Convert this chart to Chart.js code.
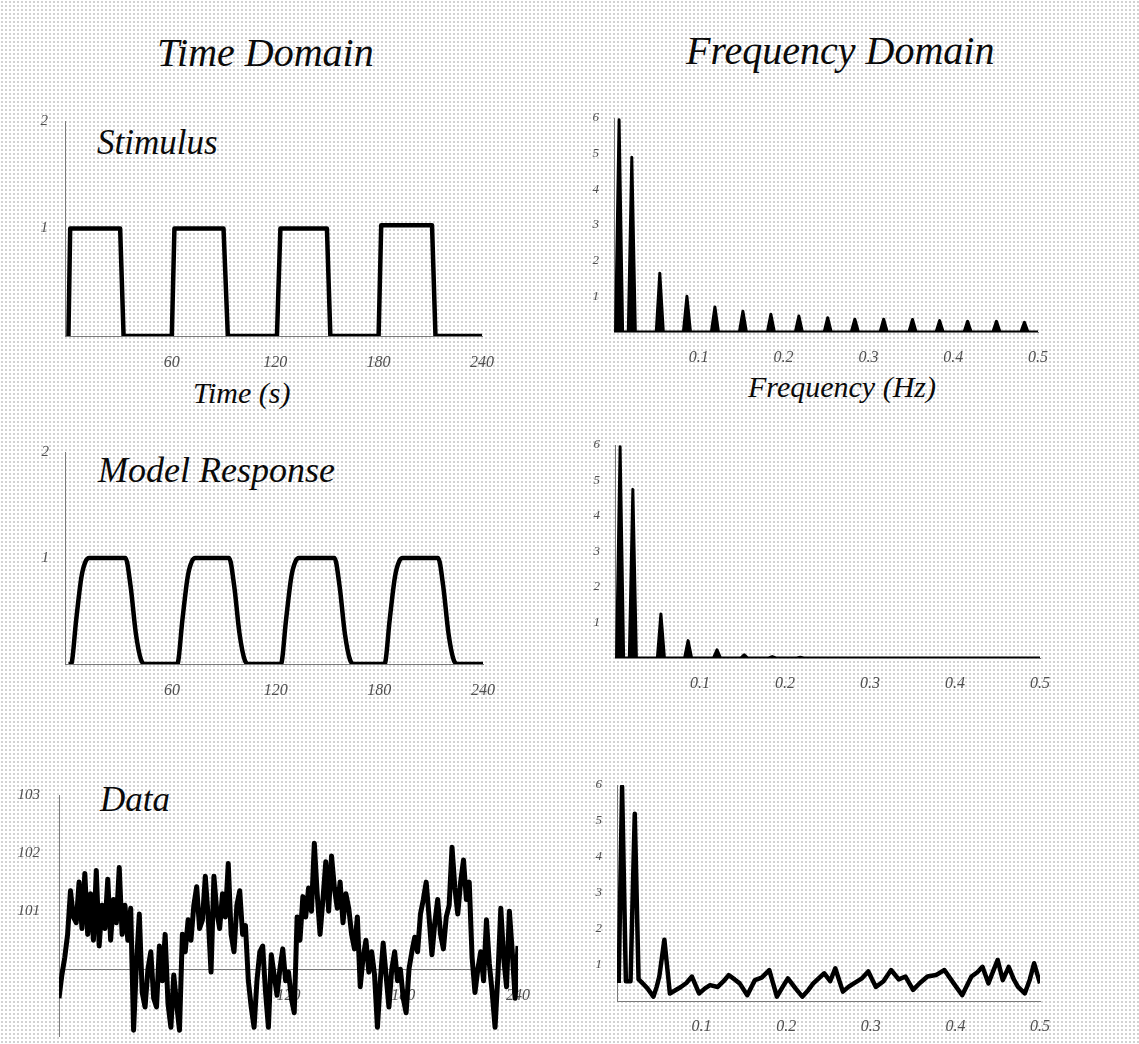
<!DOCTYPE html>
<html lang="en">
<head>
<meta charset="UTF-8">
<title>Time Domain / Frequency Domain</title>
<script src="https://cdn.jsdelivr.net/npm/chart.js"></script>
<style>
  html, body { margin: 0; padding: 0; }
  body {
    width: 1139px; height: 1044px; overflow: hidden; position: relative;
    background-color: #fff;
    background-image: radial-gradient(#d2d2d2 30%, transparent 32%);
    background-size: 4px 4px;
    font-family: "Liberation Serif", "DejaVu Serif", serif;
  }
  canvas { position: absolute; }
  .lbl { position: absolute; font-style: italic; line-height: 1; color: #0a0a0a; white-space: nowrap; }
</style>
</head>
<body>
<div class="lbl" style="left:157px; top:33px; font-size:40px;">Time Domain</div>
<div class="lbl" style="left:686px; top:31px; font-size:40px;">Frequency Domain</div>
<div class="lbl" style="left:97px; top:125px; font-size:35px;">Stimulus</div>
<div class="lbl" style="left:193px; top:378px; font-size:30px;">Time (s)</div>
<div class="lbl" style="left:748px; top:372px; font-size:30px;">Frequency (Hz)</div>
<div class="lbl" style="left:98px; top:452px; font-size:36px;">Model Response</div>
<div class="lbl" style="left:100px; top:782px; font-size:35px;">Data</div>

<script>
// ---- time domain ----
const tdXTicks = [60, 120, 180, 240];
const tdYTicks = [1, 2];
const dataYTicks = [101, 102, 103];

const stimT = [0, 1, 30, 32, 60, 61.5, 90, 92.5, 121, 123, 150, 152, 180, 181.5, 211, 213, 240];
const stimV = [0, 1, 1, 0, 0, 1, 1, 0, 0, 1, 1, 0, 0, 1.03, 1.03, 0, 0];

const modelT = [0,
  1.5, 4.5, 7.5, 10, 12, 33, 36, 39, 42, 44.5,
  63, 66, 69, 71.5, 73.5, 93, 96, 99, 102, 104.5,
  123, 126, 129, 131.5, 133.5, 154, 157, 160, 163, 165.5,
  183, 186, 189, 191.5, 193.5, 214, 217, 220, 223, 225.5,
  240];
const modelV = [0,
  0, 0.42, 0.82, 0.97, 1, 1, 0.73, 0.29, 0.04, 0,
  0, 0.42, 0.82, 0.97, 1, 1, 0.73, 0.29, 0.04, 0,
  0, 0.42, 0.82, 0.97, 1, 1, 0.73, 0.29, 0.04, 0,
  0, 0.42, 0.82, 0.97, 1, 1, 0.73, 0.29, 0.04, 0,
  0];

// measured signal, one sample every 1.5 s from t = 0
const dataStep = 1.5;
const dataV = [99.5, 99.9, 100.2, 100.6, 101.35, 100.9, 100.8, 101.5, 100.7, 101.65,
  100.6, 101.3, 100.5, 101.7, 100.4, 101.1, 100.7, 101.55, 100.5, 101.2,
  100.8, 101.75, 100.6, 101.1, 100.5, 101.05, 98.95, 100.1, 100.95, 99.6,
  99.35, 100.0, 100.3, 99.5, 99.35, 100.4, 99.8, 100.6, 99.4, 99.0,
  99.9, 99.4, 98.95, 100.6, 100.3, 100.85, 100.5, 101.1, 101.42, 100.7,
  100.85, 101.6, 100.9, 99.95, 101.6, 101.0, 100.7, 101.3, 100.9, 101.82,
  100.6, 100.3, 101.1, 101.35, 100.6, 100.75, 99.8, 99.35, 99.0, 99.8,
  100.3, 100.4, 99.6, 99.0, 100.25, 99.9, 99.55, 100.0, 100.35, 99.8,
  99.95, 99.5, 99.25, 100.9, 100.5, 101.25, 100.9, 101.4, 101.0, 102.17,
  101.3, 100.6, 101.2, 101.85, 101.0, 101.95, 101.4, 101.05, 101.5, 100.8,
  101.3, 101.05, 100.6, 100.35, 100.9, 99.7, 100.2, 100.5, 99.95, 100.3,
  99.9, 99.0, 99.8, 100.45, 99.9, 99.35, 100.0, 100.3, 99.8, 100.0,
  99.5, 99.25, 100.0, 100.3, 100.55, 100.3, 100.95, 101.2, 101.5, 100.9,
  100.25, 100.8, 101.2, 100.6, 100.35, 100.9, 101.1, 102.1, 101.4, 100.95,
  101.5, 101.88, 101.2, 101.5, 100.2, 99.6, 100.0, 100.3, 99.8, 100.85,
  100.1, 99.6, 99.0, 99.9, 101.05, 100.2, 99.7, 101.0, 100.3, 99.5,
  100.4];

// ---- frequency domain ----
const fdXTicks = [0.1, 0.2, 0.3, 0.4, 0.5];
const fdYTicks = [1, 2, 3, 4, 5, 6];

const stimPeakF = [0.006, 0.021, 0.054, 0.086, 0.119, 0.152, 0.185, 0.218, 0.252, 0.284, 0.318, 0.352, 0.384, 0.417, 0.451, 0.484];
const stimPeakA = [5.95, 4.9, 1.65, 1.0, 0.7, 0.58, 0.5, 0.45, 0.4, 0.36, 0.36, 0.35, 0.32, 0.3, 0.3, 0.27];

const modelPeakF = [0.006, 0.021, 0.054, 0.086, 0.12, 0.152, 0.185, 0.218];
const modelPeakA = [5.95, 4.75, 1.24, 0.49, 0.23, 0.09, 0.04, 0.02];

const dataSpecF = [0.002, 0.006, 0.0105, 0.016, 0.021, 0.0255, 0.03, 0.036, 0.043, 0.047,
  0.05, 0.056, 0.0625, 0.069, 0.0755, 0.082, 0.0886, 0.097, 0.104, 0.11,
  0.119, 0.126, 0.132, 0.139, 0.145, 0.154, 0.163, 0.171, 0.18, 0.189,
  0.196, 0.202, 0.211, 0.219, 0.226, 0.232, 0.245, 0.252, 0.258, 0.267,
  0.274, 0.28, 0.289, 0.297, 0.306, 0.315, 0.324, 0.333, 0.341, 0.35,
  0.358, 0.367, 0.377, 0.387, 0.398, 0.408, 0.419, 0.426, 0.432, 0.439,
  0.445, 0.45, 0.456, 0.463, 0.469, 0.474, 0.482, 0.488, 0.493, 0.5];
const dataSpecA = [0.5, 5.95, 0.55, 0.55, 5.2, 0.6, 0.5, 0.35, 0.12, 0.4,
  0.68, 1.7, 0.21, 0.3, 0.39, 0.5, 0.68, 0.21, 0.35, 0.44,
  0.39, 0.55, 0.72, 0.6, 0.49, 0.16, 0.58, 0.65, 0.86, 0.12,
  0.4, 0.63, 0.35, 0.12, 0.3, 0.49, 0.77, 0.55, 0.91, 0.26,
  0.4, 0.49, 0.62, 0.82, 0.39, 0.55, 0.86, 0.6, 0.68, 0.31,
  0.5, 0.68, 0.72, 0.86, 0.49, 0.16, 0.68, 0.8, 0.95, 0.49,
  0.85, 1.14, 0.58, 0.95, 0.6, 0.39, 0.21, 0.6, 1.05, 0.49];

const binW = 1 / 240;  // spectral bin width

function pts(xs, ys) {
  return xs.map((x, i) => ({ x: x, y: ys[i] }));
}

function spikes(freqs, amps) {
  const out = [{ x: 0, y: 0 }];
  freqs.forEach((f, i) => {
    out.push({ x: f - binW, y: 0 }, { x: f, y: amps[i] }, { x: f + binW, y: 0 });
  });
  out.push({ x: 0.5, y: 0 });
  return out;
}

const ML = 60, MR = 30, MT = 20, MB = 45;
const tickFont = { family: '"Liberation Serif", serif', size: 16, style: 'italic' };
const tickColor = '#505050';
const axisBorder = { display: true, color: '#7a7a7a', width: 1, dash: [1, 2] };

function makeChart(area, data, xo, yo) {
  const c = document.createElement('canvas');
  c.width = area.r - area.l + ML + MR;
  c.height = area.b - area.t + MT + MB;
  c.style.left = (area.l - ML) + 'px';
  c.style.top = (area.t - MT) + 'px';
  document.body.appendChild(c);
  const floating = typeof xo.position === 'object';

  return new Chart(c, {
    type: 'line',
    data: {
      datasets: [{
        data: data,
        borderColor: '#000',
        backgroundColor: '#000',
        fill: area.fill ? 'origin' : false,
        borderWidth: area.lw,
        pointRadius: 0,
        tension: 0,
        cubicInterpolationMode: area.smooth ? 'monotone' : 'default',
        borderJoinStyle: 'round'
      }]
    },
    options: {
      responsive: false,
      animation: false,
      layout: { padding: { top: MT, right: MR, left: 0, bottom: floating ? MB : 0 } },
      plugins: { legend: { display: false }, tooltip: { enabled: false } },
      scales: {
        x: {
          type: 'linear',
          min: xo.min, max: xo.max,
          position: xo.position || 'bottom',
          grid: { display: false },
          border: axisBorder,
          ticks: { font: tickFont, color: tickColor, padding: xo.pad, maxRotation: 0, autoSkip: false,
                   callback: v => String(v) },
          afterBuildTicks: s => { s.ticks = xo.ticks.map(v => ({ value: v })); },
          afterFit: s => { s.height = floating ? 0 : MB; s.paddingLeft = 0; s.paddingRight = 0; }
        },
        y: {
          type: 'linear',
          min: yo.min, max: yo.max,
          grid: { display: false },
          border: axisBorder,
          ticks: { font: Object.assign({}, tickFont, { size: yo.size || 15 }), color: tickColor, padding: yo.pad,
                   callback: v => String(v) },
          afterBuildTicks: s => { s.ticks = yo.ticks.map(v => ({ value: v })); },
          afterFit: s => { s.width = ML; s.paddingTop = 0; s.paddingBottom = 0; }
        }
      }
    }
  });
}

// stimulus
makeChart({ l: 65, r: 482, t: 121, b: 336, lw: 4.5 }, pts(stimT, stimV),
  { min: -2, max: 240, ticks: tdXTicks, pad: 9 },
  { min: 0, max: 2, ticks: tdYTicks, pad: 9 });

// model response
makeChart({ l: 65, r: 483, t: 452, b: 664, lw: 4.5, smooth: true }, pts(modelT, modelV),
  { min: -2, max: 240, ticks: tdXTicks, pad: 9 },
  { min: 0, max: 2, ticks: tdYTicks, pad: 8 });

// data
const dataT = dataV.map((v, i) => i * dataStep);
makeChart({ l: 59, r: 518, t: 795, b: 1036, lw: 5 }, pts(dataT, dataV),
  { min: 0, max: 240, ticks: tdXTicks, pad: 9, position: { y: 100 } },
  { min: 98.85, max: 103, ticks: dataYTicks, pad: 11 });

// spectra
makeChart({ l: 614, r: 1038, t: 118, b: 332, lw: 3, fill: true }, spikes(stimPeakF, stimPeakA),
  { min: 0, max: 0.5, ticks: fdXTicks, pad: 8 },
  { min: 0, max: 6, ticks: fdYTicks, pad: 7, size: 13 });

makeChart({ l: 615, r: 1040, t: 445, b: 658, lw: 3, fill: true }, spikes(modelPeakF, modelPeakA),
  { min: 0, max: 0.5, ticks: fdXTicks, pad: 8 },
  { min: 0, max: 6, ticks: fdYTicks, pad: 7, size: 13 });

makeChart({ l: 617, r: 1040, t: 785, b: 1001, lw: 4.5 }, pts(dataSpecF, dataSpecA),
  { min: 0, max: 0.5, ticks: fdXTicks, pad: 8 },
  { min: 0, max: 6, ticks: fdYTicks, pad: 7, size: 13 });
</script>
</body>
</html>
